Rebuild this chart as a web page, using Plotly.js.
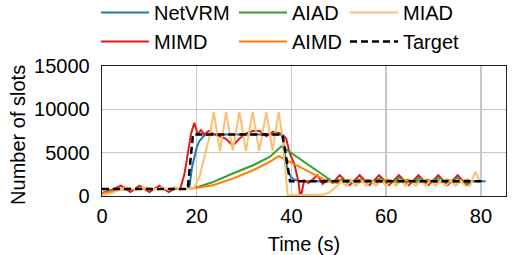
<!DOCTYPE html>
<html>
<head>
<meta charset="utf-8">
<script src="https://cdn.plot.ly/plotly-3.0.1.min.js"></script>
<style>html,body{margin:0;padding:0;background:#fff;}#chart{width:519px;height:255px;}</style>
</head>
<body>
<div id="chart"></div>
<script>
// ---- data ----
const targetT = [0, 18.1, 19.2, 38.1, 39.7, 81];
const targetY = [800, 800, 7100, 7100, 1700, 1700];

const netvrmT = [0, 1, 2, 3, 4, 18, 18.5, 19, 19.5, 20, 20.5, 21, 21.5, 22, 23, 38, 38.5, 39, 39.5, 40, 40.5, 41.5, 43, 81];
const netvrmY = [300, 550, 700, 780, 800, 800, 1200, 3300, 4600, 5600, 6300, 6700, 6950, 7050, 7100, 7100, 5300, 3500, 2600, 2150, 1900, 1750, 1700, 1700];

const mimdT = [0, 2, 4, 6, 7.9, 10, 12.1, 14.1, 15.5, 16.5, 17.4, 18.1, 18.8, 19.5, 20.2, 20.9, 21.6, 22.5, 23.4, 24.8, 26.2, 27.6, 29, 30.4, 31.8, 33.3, 34.7, 36.1, 37.5, 37.9, 38.9, 39.6, 40.6, 41.5, 41.9, 42.7, 43.6, 44.5, 45.5, 46.6, 47.7, 48.7, 50.2, 52.3, 54.4, 56.5, 58.5, 60.6, 62.7, 64.8, 66.8, 68.9, 71, 73, 75.1, 77, 78.1];
const mimdY = [300, 700, 1200, 450, 1200, 450, 1200, 450, 900, 800, 2500, 4900, 7200, 8450, 7100, 7600, 7100, 7500, 7200, 6900, 6600, 5800, 6600, 7200, 7500, 7500, 6900, 7400, 7300, 7200, 6600, 5000, 3700, 1600, -300, 1800, 1500, 1900, 2400, 1400, 1900, 1500, 2400, 1250, 2400, 1250, 2400, 1250, 2400, 1250, 2400, 1250, 2400, 1250, 2400, 1250, 1700];

const aiadT = [0, 2, 4, 18, 18.5, 20.6, 23.4, 27.6, 31.9, 35.4, 37.9, 48.6, 50.5, 52.5, 54.6, 56.6, 58.7, 60.7, 62.8, 64.8, 66.9, 68.9, 71, 73, 75, 77, 78];
const aiadY = [300, 600, 800, 800, 850, 1100, 1600, 2600, 3550, 4500, 5750, 1700, 1900, 1500, 1950, 1500, 2000, 1500, 2050, 1500, 2050, 1500, 2050, 1500, 2050, 1500, 1700];

const aimdT = [0, 2, 4, 6, 18, 20, 23.4, 27.6, 31.9, 35.4, 37.3, 47.7, 49.8, 51.9, 54, 56.1, 58.2, 60.3, 62.4, 64.5, 66.6, 68.7, 70.8, 72.9, 75, 77.1, 78];
const aimdY = [300, 550, 750, 800, 800, 950, 1240, 2000, 2970, 3930, 4600, 1700, 1500, 1900, 1500, 1900, 1500, 1900, 1500, 1900, 1500, 1900, 1500, 1900, 1500, 1900, 1700];

const miadT = [0, 2, 3.5, 5, 7, 9, 11, 12.5, 14, 15.5, 17, 18.5, 19.5, 20.6, 21.6, 22.7, 23.6, 24.9, 26.2, 27.6, 29, 30.4, 31.8, 33.2, 34.7, 36, 37.3, 38.1, 39.2, 44.5, 46.7, 48.1, 49.1, 49.8, 50.5, 51.55, 52.6, 53.65, 54.7, 55.75, 56.8, 57.85, 58.9, 59.95, 61, 62.05, 63.1, 64.15, 65.2, 66.25, 67.3, 68.35, 69.4, 70.45, 71.5, 72.55, 73.6, 74.65, 75.7, 76.75, 77.7, 78.8, 79.8];
const miadY = [100, 300, 650, 1000, 750, 1000, 750, 1000, 750, 1000, 800, 800, 1000, 2200, 4500, 6800, 9700, 5200, 9700, 5200, 9700, 5200, 9700, 5200, 9700, 5200, 9700, 6800, 100, 100, 130, 450, 850, 1230, 1700, 1150, 1800, 1150, 1800, 1150, 1800, 1150, 1800, 1150, 1800, 1150, 1800, 1150, 1800, 1150, 1800, 1150, 1800, 1150, 1800, 1150, 1800, 1150, 1800, 1150, 1200, 2800, 1700];

const xTicks = [0, 20, 40, 60, 80];
const yTicks = [0, 5000, 10000, 15000];
const yTickText = ['0', '5000', '10000', '15000'];
const xTitle = 'Time (s)';
const yTitle = 'Number of slots';

// ---- traces ----
const FONT = 'Liberation Sans, Arial, Helvetica, sans-serif';
function tr(name, x, y, color, legend, dash, width) {
  return {type: 'scatter', mode: 'lines', name: name, x: x, y: y,
    line: {color: color, width: width || 2, dash: dash || 'solid'},
    legend: legend, hoverinfo: 'skip'};
}
const traces = [
  tr('NetVRM', netvrmT, netvrmY, '#1f78b4', 'legend'),
  tr('MIMD', mimdT, mimdY, '#e31a1c', 'legend'),
  tr('AIAD', aiadT, aiadY, '#33a02c', 'legend2'),
  tr('AIMD', aimdT, aimdY, '#ff7f00', 'legend2'),
  tr('MIAD', miadT, miadY, '#fdbf6f', 'legend3'),
  tr('Target', targetT, targetY, '#000000', 'legend3', '7px,4px', 2.5)
];

function leg(xpx) {
  return {xref: 'container', yref: 'paper', x: xpx / 519, y: (196 + 7) / 130, xanchor: 'left', yanchor: 'top',
    orientation: 'v', bgcolor: 'rgba(0,0,0,0)', borderwidth: 0, itemwidth: 48,
    font: {family: FONT, size: 20, color: '#000'}, tracegroupgap: 0, itemclick: false};
}

const layout = {
  width: 519, height: 255,
  margin: {l: 102, r: 13, t: 66, b: 59, pad: 0, autoexpand: false},
  paper_bgcolor: '#fff', plot_bgcolor: '#fff',
  font: {family: FONT, size: 20, color: '#000'},
  showlegend: true,
  legend: leg(96), legend2: leg(234), legend3: leg(345),
  xaxis: {range: [0, 85.3], tickvals: xTicks, ticktext: xTicks.map(String), showgrid: true,
    gridcolor: '#c8c8c8', gridwidth: 1.5, zeroline: false, showline: true, mirror: true,
    linecolor: '#222', linewidth: 1.3, ticks: 'outside', ticklen: 2, tickcolor: 'rgba(0,0,0,0)', automargin: false,
    tickfont: {family: FONT, size: 20, color: '#000'},
    title: {text: xTitle, font: {family: FONT, size: 20, color: '#000'}}},
  yaxis: {range: [0, 15000], tickvals: yTicks, ticktext: yTickText, showgrid: true,
    gridcolor: '#c8c8c8', gridwidth: 1.5, zeroline: false, showline: true, mirror: true,
    linecolor: '#222', linewidth: 1.3, ticks: 'outside', ticklen: 7, tickcolor: 'rgba(0,0,0,0)', automargin: false,
    tickfont: {family: FONT, size: 20, color: '#000'}},
  annotations: [{text: yTitle, xref: 'paper', yref: 'paper', x: -(102 - 18) / 404, y: 0.47,
    xanchor: 'center', yanchor: 'middle', textangle: -90, showarrow: false,
    font: {family: FONT, size: 20, color: '#000'}}]
};

Plotly.newPlot('chart', traces, layout, {staticPlot: true, displayModeBar: false});
</script>
</body>
</html>
